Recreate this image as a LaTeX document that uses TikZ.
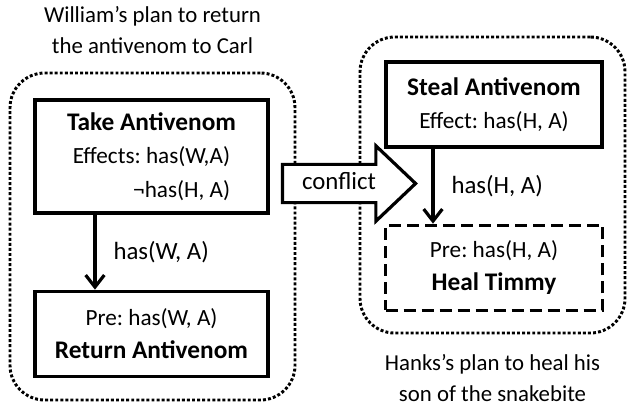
\documentclass[tikz,border=0pt]{standalone}
\usepackage{fontspec}
\setmainfont{Carlito}
\frenchspacing
\usetikzlibrary{arrows.meta,positioning,shapes.arrows}
\newcommand{\acttitle}[1]{{\fontsize{19}{25}\selectfont\bfseries #1}}
\tikzset{
  % Plan container (dotted, rounded)
  planbox/.style={rectangle,rounded corners=26pt,draw,line width=2.2pt,
    dash pattern=on 2.2pt off 1.6pt},
  % Action box
  actbox/.style={rectangle,draw,line width=2.5pt,align=center,
    minimum width=174.75pt,minimum height=63.75pt,inner sep=0pt,
    font=\fontsize{17.4}{25}\selectfont},
  % Action still to come (dashed)
  pendbox/.style={actbox,dash pattern=on 9pt off 4.5pt},
  % Captions and labels
  capt/.style={align=center,font=\fontsize{17.1}{23.25}\selectfont},
  lbl/.style={font=\fontsize{18.6}{22}\selectfont},
  % Arrows
  arr/.style={-{Straight Barb[length=9pt,width=14pt,line width=2.4pt]},
    line width=2.4pt},
  conflictarr/.style={single arrow,draw,fill=white,line width=2.4pt,
    font=\fontsize{18.6}{22}\selectfont,minimum height=99.75pt,
    single arrow head extend=13.9pt,single arrow tip angle=87,
    text height=12pt,text depth=3.5pt,inner ysep=5.4pt,inner xsep=2pt},
}
\begin{document}
\begin{tikzpicture}[x=0.75pt,y=-0.75pt]
  \useasboundingbox (0,0) rectangle (627,407);
  % plans
  \node[planbox,minimum width=213.75pt,minimum height=245.25pt] (wplan)
    at (152.5,236.5) {};
  \node[planbox,minimum width=198.75pt,minimum height=222pt] (hplan)
    at (492.5,185) {};
  \node[capt,above=10pt of wplan] (wcap)
    {William’s plan to return\\the antivenom to Carl};
  \node[capt,below=11.5pt of hplan] (hcap)
    {Hanks’s plan to heal his\\son of the snakebite};

  % William's actions
  \node[actbox,minimum height=84.75pt] (take) at (151.5,156.5)
    {\acttitle{Take Antivenom}\\Effects: has(W,A)\\
     \hphantom{Effects: has(W,A)}\llap{¬has(H, A)}};
  \node[actbox,below=56.25pt of take] (ret)
    {Pre: has(W, A)\\\acttitle{Return Antivenom}};

  % Hank's actions
  \node[actbox,minimum width=162pt] (steal) at (494,104.5)
    {\acttitle{Steal Antivenom}\\Effect: has(H, A)};
  \node[pendbox,minimum width=162.75pt,below=56.25pt of steal] (heal)
    {Pre: has(H, A)\\\acttitle{Heal Timmy}};

  \draw[arr] ([xshift=-42.4pt]take.south) coordinate (t1) -- (t1 |- ret.north)
    node[lbl,midway,right=9.4pt] {has(W, A)};
  \draw[arr] ([xshift=-45.75pt]steal.south) coordinate (s1) -- (s1 |- heal.north)
    node[lbl,midway,right=9.4pt] {has(H, A)};

  \node[conflictarr] (conf) at (339,183.5) {conflict};
\end{tikzpicture}
\end{document}
